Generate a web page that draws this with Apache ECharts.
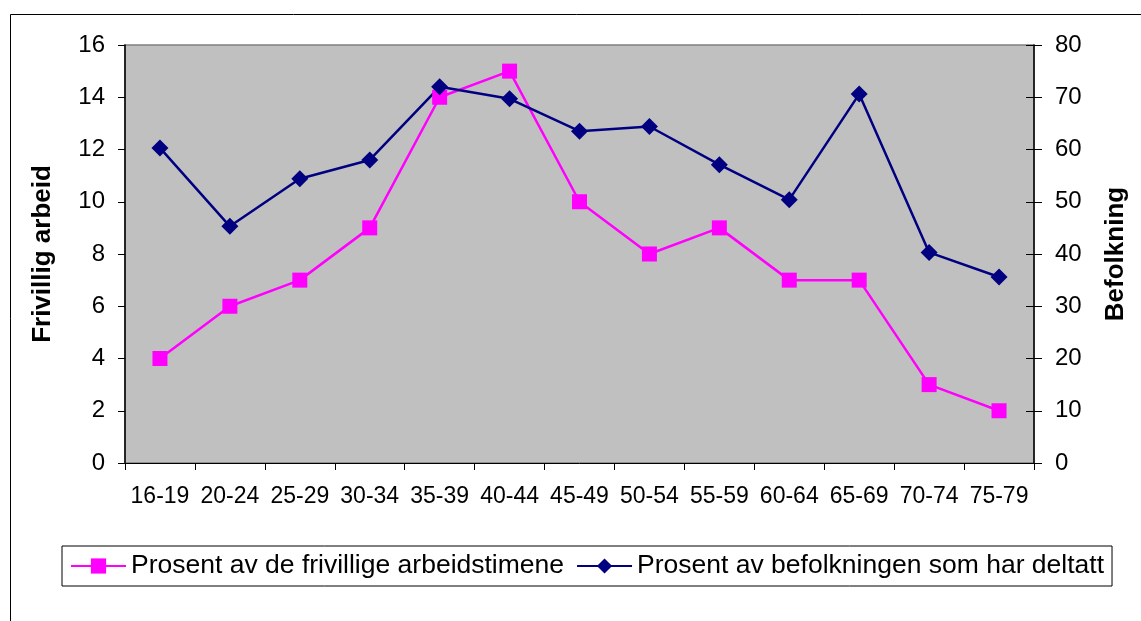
<!DOCTYPE html>
<html><head><meta charset="utf-8">
<script src="https://cdn.jsdelivr.net/npm/echarts@6/dist/echarts.min.js"></script>
<style>html,body{margin:0;padding:0;background:#fff}#c{width:1141px;height:621px}</style>
</head><body><div id="c"></div>
<script>
const categories = ['16-19','20-24','25-29','30-34','35-39','40-44','45-49','50-54','55-59','60-64','65-69','70-74','75-79'];
const arbeidstimer = [4, 6, 7, 9, 14, 15, 10, 8, 9, 7, 7, 3, 2];
const befolkning = [60.3, 45.3, 54.4, 58.0, 72.0, 69.7, 63.5, 64.4, 57.1, 50.4, 70.6, 40.3, 35.6];
const leftTicks = {min: 0, max: 16, interval: 2};
const rightTicks = {min: 0, max: 80, interval: 10};
const seriesNames = ['Prosent av de frivillige arbeidstimene', 'Prosent av befolkningen som har deltatt'];

const font = 'Liberation Sans, Arial, sans-serif';
const chart = echarts.init(document.getElementById('c'), null, {renderer: 'canvas'});
chart.setOption({
  animation: false,
  backgroundColor: '#fff',
  graphic: [{
    type: 'rect', left: 8, top: 12, z: -10, silent: true,
    shape: {width: 1150, height: 630},
    style: {fill: 'none', stroke: '#000', lineWidth: 1}
  }],
  grid: {left: 125, right: 107, top: 45, bottom: 158, show: true, backgroundColor: '#C0C0C0', borderColor: '#808080', borderWidth: 1.5},
  legend: {
    left: 62, top: 546, orient: 'horizontal',
    itemWidth: 55, itemHeight: 19, itemGap: 12,
    padding: [4, 8, 4, 8],
    borderColor: '#000', borderWidth: 1,
    textStyle: {fontFamily: font, fontSize: 26.5, color: '#000', lineHeight: 32, padding: [0, 0, 0, 0]},
    data: seriesNames
  },
  xAxis: {
    type: 'category', data: categories, boundaryGap: true,
    axisLine: {lineStyle: {color: '#000', width: 1}},
    axisTick: {show: true, alignWithLabel: false, length: 7, lineStyle: {color: '#000'}},
    axisLabel: {fontFamily: font, fontSize: 23, color: '#000', margin: 22, interval: 0},
    splitLine: {show: false}
  },
  yAxis: [{
    type: 'value', min: leftTicks.min, max: leftTicks.max, interval: leftTicks.interval, position: 'left',
    name: 'Frivillig arbeid', nameLocation: 'middle', nameGap: 69, nameRotate: 90,
    nameTextStyle: {fontFamily: font, fontSize: 26, fontWeight: 'bold', color: '#000'},
    axisLine: {show: true, lineStyle: {color: '#000', width: 1.5}},
    axisTick: {show: true, length: 7, lineStyle: {color: '#000'}},
    axisLabel: {fontFamily: font, fontSize: 24, color: '#000', margin: 20},
    splitLine: {show: false}
  }, {
    type: 'value', min: rightTicks.min, max: rightTicks.max, interval: rightTicks.interval, position: 'right',
    name: 'Befolkning', nameLocation: 'middle', nameGap: 69, nameRotate: 90,
    nameTextStyle: {fontFamily: font, fontSize: 26, fontWeight: 'bold', color: '#000'},
    axisLine: {show: true, lineStyle: {color: '#000', width: 1.5}},
    axisTick: {show: true, length: 8, lineStyle: {color: '#000'}},
    axisLabel: {fontFamily: font, fontSize: 24, color: '#000', margin: 21},
    splitLine: {show: false}
  }, {
    type: 'value', min: rightTicks.min, max: rightTicks.max, interval: rightTicks.interval, position: 'right',
    axisLine: {show: false},
    axisTick: {show: true, inside: true, length: 8, lineStyle: {color: '#000'}},
    axisLabel: {show: false},
    splitLine: {show: false}
  }],
  series: [{
    name: seriesNames[0], type: 'line', yAxisIndex: 0, data: arbeidstimer,
    symbol: 'rect', symbolSize: 15, showAllSymbol: true,
    lineStyle: {color: '#FF00FF', width: 2.5},
    itemStyle: {color: '#FF00FF'}
  }, {
    name: seriesNames[1], type: 'line', yAxisIndex: 1, data: befolkning,
    symbol: 'diamond', symbolSize: 17, showAllSymbol: true,
    lineStyle: {color: '#000080', width: 2.5},
    itemStyle: {color: '#000080'}
  }]
});
</script></body></html>
